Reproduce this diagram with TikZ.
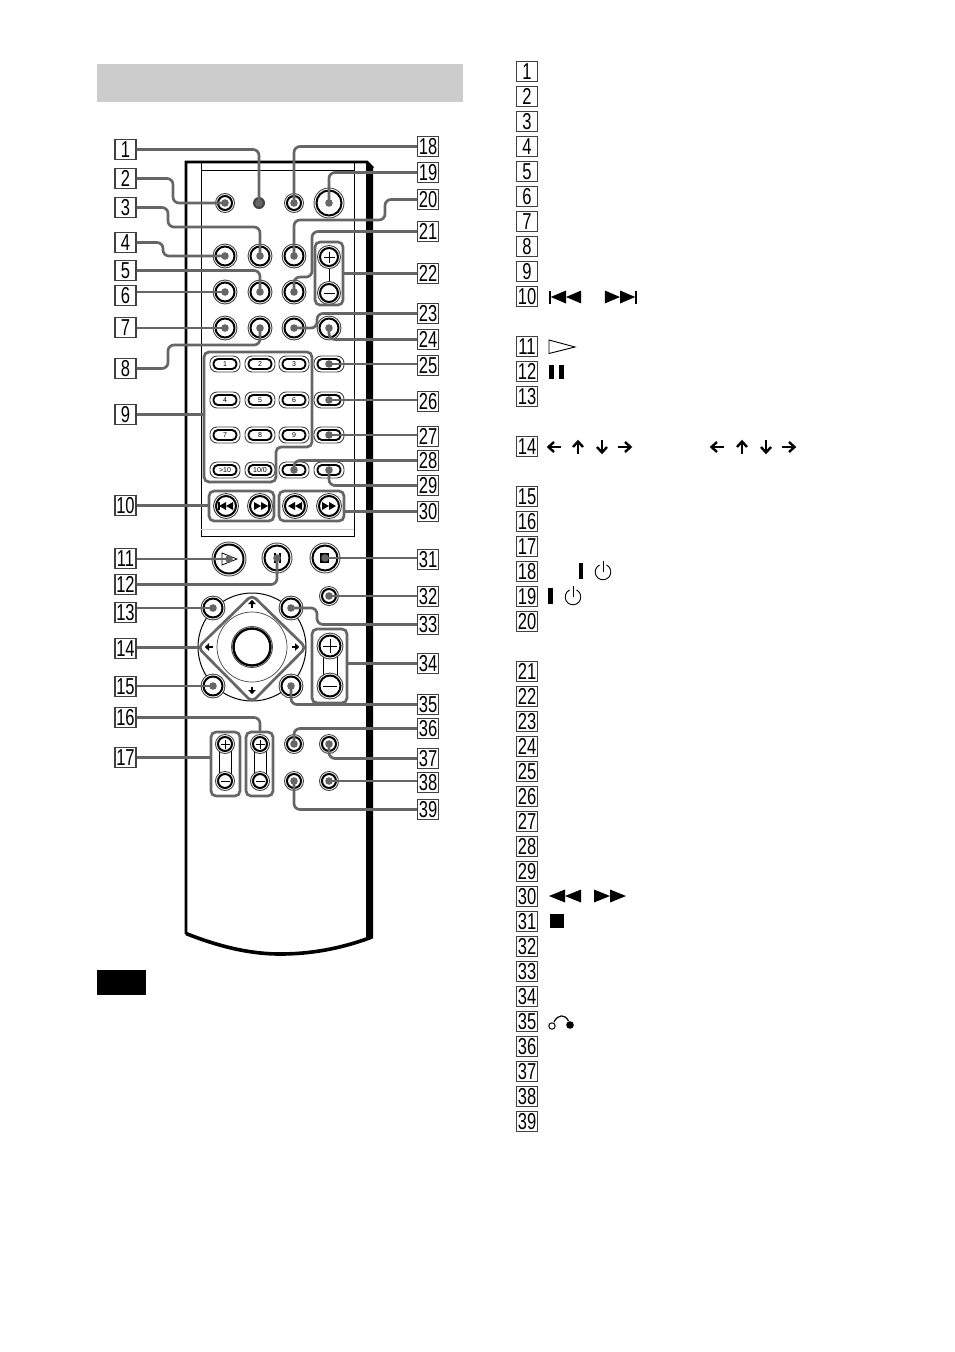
\documentclass[tikz,border=0pt]{standalone}
\usepackage{fontspec}
\setmainfont{Liberation Sans}
\newfontfamily\labfont[FakeStretch=0.72]{Liberation Sans}
\definecolor{conn}{HTML}{666666}
\definecolor{ringc}{HTML}{444444}
\definecolor{band}{HTML}{CCCCCC}
\tikzset{
  lab/.style={draw=black!75,line width=1.2pt,fill=white,minimum width=21pt,minimum height=20.5pt,inner sep=0pt,font=\labfont\fontsize{23}{23}\selectfont},
  conn/.style={draw=conn,line width=2.7pt,rounded corners=6pt},
  grp/.style={draw=conn,line width=2.7pt,rounded corners=5pt},
  ring/.style={draw=ringc,line width=0.9pt,fill=white},
  core/.style={circle,draw=black,line width=2pt,fill=white,inner sep=0pt},
  ovalcore/.style={rectangle,rounded corners=4.5pt,draw=black,line width=1.9pt,fill=white,inner sep=0pt,minimum width=23pt,minimum height=10pt,font=\fontsize{7}{7}\selectfont},
  enddot/.style={fill=conn,draw=none},
  arr/.pic={\draw[black,line width=2.4pt] (-7,0) -- (5,0); \draw[black,line width=2.4pt] (0,-5) -- (5.5,0) -- (0,5);},
  smallarr/.pic={\fill[black] (-3.5,-1.2) rectangle (1,1.2); \fill[black] (0,-3.8) -- (4.2,0) -- (0,3.8) -- cycle;}
}
\newcommand{\btn}[4]{\draw[ring] (#2,#3) circle (#4); \node[core,minimum size=#4*2-5] (#1) at (#2,#3) {};}
\newcommand{\ovalbtn}[4]{\draw[ring,rounded corners=7pt] (#2-15,#3-8) rectangle (#2+15,#3+8); \node[ovalcore] (#1) at (#2,#3) {#4};}
\newcommand{\tipdot}[1]{\fill[enddot] (#1.center) circle (3.8);}
\newcommand{\prevsym}[3]{\fill[black] (#1,#2-6.5) rectangle (#1+2,#2+6.5); \fill[black] (#1+1.8,#2) -- (#1+#3,#2-6.5) -- (#1+#3,#2+6.5) -- cycle; \fill[black] (#1+#3,#2) -- (#1+2*#3-1.8,#2-6.5) -- (#1+2*#3-1.8,#2+6.5) -- cycle;}
\newcommand{\nextsym}[3]{\fill[black] (#1-2,#2-6.5) rectangle (#1,#2+6.5); \fill[black] (#1-1.8,#2) -- (#1-#3,#2-6.5) -- (#1-#3,#2+6.5) -- cycle; \fill[black] (#1-#3,#2) -- (#1-2*#3+1.8,#2-6.5) -- (#1-2*#3+1.8,#2+6.5) -- cycle;}
\begin{document}
\begin{tikzpicture}[x=1pt,y=-1pt,line cap=butt]
\useasboundingbox (0,0) rectangle (954,1352);
\fill[white] (0,0) rectangle (954,1352);
\fill[band] (97,64) rectangle (463,102);
\fill[black] (97,970) rectangle (146,995);

% --- remote body
\draw[black,line width=2.6pt] (186,934) -- (186,162) -- (367,162) -- (373,168);
\fill[black] (366,161) -- (373,168) -- (373,938) -- (366,940.5) -- cycle;
\draw[black,line width=3.6pt] (186,933.5) .. controls (225,949) and (255,954) .. (280,954) .. controls (310,954) and (340,949) .. (372,937);
\draw[black,line width=1pt] (201,162) -- (201,536) -- (354,536) -- (354,162);
\draw[black,line width=1pt] (201,170) -- (354,170);
\draw[band,line width=1pt] (201,529) -- (354,529);

% --- top buttons
\btn{b2}{225}{203}{9.5}
\fill[ringc] (259,203) circle (6); \node[circle,fill=conn,minimum size=7,inner sep=0pt] (b1) at (259,203) {};
\btn{b18}{294}{203}{9.5}
\btn{b19}{329}{203}{15}
\foreach \nm/\xx/\yy in {b4/225/256,b3/260/256,b20/294/256,b6/225/292,b5/260/292,b21/294/292,b7/225/328,b8/260/328,b23/294/328,b24/329/328}{\btn{\nm}{\xx}{\yy}{12}}
\draw[black,line width=0.8pt] (329,262) -- (329,282);
\btn{bplus}{329}{257}{11.5}
\btn{bminus}{329}{293}{11.5}
\draw[black,line width=1pt] (323.5,257) -- (334.5,257) (329,251.5) -- (329,262.5) (323.5,293) -- (334.5,293);

% --- number keys
\ovalbtn{k1}{225}{364}{1}
\ovalbtn{k2}{260}{364}{2}
\ovalbtn{k3}{294}{364}{3}
\ovalbtn{b25}{329}{364}{}
\ovalbtn{k4}{225}{400}{4}
\ovalbtn{k5}{260}{400}{5}
\ovalbtn{k6}{294}{400}{6}
\ovalbtn{b26}{329}{400}{}
\ovalbtn{k7}{225}{435}{7}
\ovalbtn{k8}{260}{435}{8}
\ovalbtn{k9}{294}{435}{9}
\ovalbtn{b27}{329}{435}{}
\ovalbtn{k10}{225}{470}{>10}
\ovalbtn{k0}{260}{470}{10/0}
\ovalbtn{b28}{294}{470}{}
\ovalbtn{b29}{329}{470}{}

% --- transport keys
\foreach \nm/\xx in {tp/226,tn/260,tr/295,tf/329}{\btn{\nm}{\xx}{506}{12.5}}
\fill[black] (218,502) rectangle (219.5,510); \fill[black] (219,506) -- (226,502) -- (226,510) -- cycle; \fill[black] (226,506) -- (233,502) -- (233,510) -- cycle;
\fill[black] (267.5,502) rectangle (269,510); \fill[black] (268,506) -- (261,502) -- (261,510) -- cycle; \fill[black] (261,506) -- (254,502) -- (254,510) -- cycle;
\fill[black] (295,506) -- (302,502) -- (302,510) -- cycle; \fill[black] (288,506) -- (295,502) -- (295,510) -- cycle;
\fill[black] (329,506) -- (322,502) -- (322,510) -- cycle; \fill[black] (336,506) -- (329,502) -- (329,510) -- cycle;

% --- big keys
\btn{b11}{229}{559}{17}
\draw[black,line width=0.8pt,fill=white] (222,553) -- (237,559) -- (222,565) -- cycle;
\btn{b12}{277}{558}{15}
\fill[black] (274,553) rectangle (276,563); \fill[black] (279,553) rectangle (281,563);
\btn{b31}{325}{558}{15}
\fill[black] (320,553) rectangle (329,563);
\btn{b32}{329}{596}{9.5}

% --- cursor pad
\draw[black,line width=1pt,fill=white] (252,647) circle (54);
\btn{b13}{213}{608}{12}
\btn{b33}{291}{608}{12}
\btn{b15}{213}{686}{12}
\btn{b35}{291}{686}{12}
\draw[grp,line join=round] (198,647.5) -- (252,595) -- (306,647.5) -- (252,702) -- cycle;
\coordinate (padleft) at (198,647.5);
\draw[ringc,line width=0.7pt] (252,647) circle (35);
\draw[ringc,line width=0.8pt] (252,647) circle (20.5);
\draw[black,line width=2.4pt] (252,647) circle (18.5);
\path (252,604) pic[rotate=90] {smallarr};
\path (252,690) pic[rotate=-90] {smallarr};
\path (209,647) pic[rotate=180] {smallarr};
\path (295,647) pic {smallarr};

\draw[black,line width=0.8pt] (323,646) -- (323,686) (337,646) -- (337,686);
\btn{cplus}{330}{646}{13}
\btn{cminus}{330}{686}{13}
\draw[black,line width=1pt] (323,646) -- (337,646) (330,639) -- (330,653) (323,686) -- (337,686);

% --- lower keys
\draw[black,line width=0.8pt] (219,744) -- (219,781) (231,744) -- (231,781);
\draw[black,line width=0.8pt] (254,744) -- (254,781) (266,744) -- (266,781);
\foreach \nm/\xx/\yy in {vp/225/744,vm/225/781,up/260/744,um/260/781,b36/294/744,b37/329/744,b39/294/781,b38/329/781}{\btn{\nm}{\xx}{\yy}{9.5}}
\draw[black,line width=0.9pt] (220.5,744) -- (229.5,744) (225,739.5) -- (225,748.5) (220.5,781) -- (229.5,781);
\draw[black,line width=0.9pt] (255.5,744) -- (264.5,744) (260,739.5) -- (260,748.5) (255.5,781) -- (264.5,781);

% --- groups
\draw[grp] (315,242) rectangle (343,305);
\draw[grp] (204,352) -- (312,352) -- (312,447) -- (276,447) -- (276,482) -- (204,482) -- cycle;
\draw[grp] (209,491) rectangle (274,521);
\draw[grp] (279,491) rectangle (344,521);
\draw[grp] (312,629) rectangle (347,703);
\draw[grp] (211,732) rectangle (240,796);
\draw[grp] (246,732) rectangle (273,796);
\coordinate (g22) at (343,273);
\coordinate (g9) at (204,414);
\coordinate (g10) at (209,505);
\coordinate (g30) at (344,511);
\coordinate (g34) at (347,663);
\coordinate (g16) at (260,732);
\coordinate (g17) at (211,757);

% --- callout labels
\foreach \n/\y in {1/149.5,2/178.5,3/207.5,4/242.5,5/270.5,6/295.5,7/327.5,8/368.5,9/414.5,10/505.5,11/558.5,12/584.5,13/612.5,14/648.5,15/686.5,16/717.5,17/757.5}{\node[lab] (L\n) at (125.5,\y) {\n};}
\foreach \n/\y in {18/146.5,19/172.5,20/199.5,21/231.5,22/273.5,23/313.5,24/339.5,25/365.5,26/401.5,27/436.5,28/460.5,29/485.5,30/511.5,31/559.5,32/596.5,33/624.5,34/663.5,35/704.5,36/728.5,37/758.5,38/782.5,39/809.5}{\node[lab] (L\n) at (428,\y) {\n};}

% --- list labels
\foreach \n/\y in {1/71,2/96,3/121,4/146,5/171,6/196,7/221,8/246,9/271,10/296,11/346,12/371,13/396,14/446,15/496,16/521,17/546,18/571,19/596,20/621,21/671,22/696,23/721,24/746,25/771,26/796,27/821,28/846,29/871,30/896,31/921,32/946,33/971,34/996,35/1021,36/1046,37/1071,38/1096,39/1121}{\node[lab] (list\n) at (527,\y+0.5) {\n};}

% --- connectors
\draw[conn] (L1.east) -| (b1.center);
\draw[conn] (L2.east) -- (173,178.5) |- (b2.center);
\draw[conn] (L3.east) -- (168,207.5) |- (260,227) -- (b3.center);
\draw[conn] (L4.east) -- (163,242.5) |- (b4.center);
\draw[conn] (L5.east) -| (b5.center);
\draw[conn] (b6.center -| L6.east) -- (b6.center);
\draw[conn] (b7.center -| L7.east) -- (b7.center);
\draw[conn] (L8.east) -- (168,368.5) |- (260,345) -- (b8.center);
\draw[conn] (L9.east) -- (L9.east -| g9);
\draw[conn] (L10.east) -- (L10.east -| g10);
\draw[conn] (b11.center -| L11.east) -- (b11.center);
\draw[conn] (L12.east) -| (b12.center);
\draw[conn] (b13.center -| L13.east) -- (b13.center);
\draw[conn] (padleft -| L14.east) -- (padleft);
\draw[conn] (b15.center -| L15.east) -- (b15.center);
\draw[conn] (L16.east) -| (g16);
\draw[conn] (L17.east) -- (L17.east -| g17);
\draw[conn] (L18.west) -| (b18.center);
\draw[conn] (L19.west) -| (b19.center);
\draw[conn] (L20.west) -- (385,199.5) |- (294,220) -- (b20.center);
\draw[conn] (L21.west) -- (312,231.5) |- (294,277) -- (b21.center);
\draw[conn] (L22.west) -- (L22.west -| g22);
\draw[conn] (L23.west) -- (317,313.5) |- (b23.center);
\draw[conn] (L24.west) -| (b24.center);
\draw[conn] (b25.center -| L25.west) -- (b25.center);
\draw[conn] (b26.center -| L26.west) -- (b26.center);
\draw[conn] (b27.center -| L27.west) -- (b27.center);
\draw[conn] (L28.west) -| (b28.center);
\draw[conn] (L29.west) -| (b29.center);
\draw[conn] (L30.west) -- (L30.west -| g30);
\draw[conn] (b31.center -| L31.west) -- (b31.center);
\draw[conn] (b32.center -| L32.west) -- (b32.center);
\draw[conn] (L33.west) -- (317,624.5) |- (b33.center);
\draw[conn] (L34.west) -- (L34.west -| g34);
\draw[conn] (L35.west) -| (b35.center);
\draw[conn] (L36.west) -| (b36.center);
\draw[conn] (L37.west) -| (b37.center);
\draw[conn] (b38.center -| L38.west) -- (b38.center);
\draw[conn] (L39.west) -| (b39.center);
\foreach \b in {b1,b2,b3,b4,b5,b6,b7,b8,b11,b12,b13,b15,b18,b19,b20,b21,b23,b24,b25,b26,b27,b28,b29,b31,b32,b33,b35,b36,b37,b38,b39}{\tipdot{\b}}

% --- symbols in the list
\prevsym{549}{297}{17}
\nextsym{637}{297}{17}
\draw[black,line width=0.9pt] (549,340) -- (575,347) -- (549,353.5) -- cycle;
\fill[black] (549,365) rectangle (554,379);
\fill[black] (559,365) rectangle (564,379);
\path (554,447) pic[rotate=180] {arr};
\path (578,447) pic[rotate=90] {arr};
\path (602,447) pic[rotate=-90] {arr};
\path (625,447) pic {arr};
\path (717,447) pic[rotate=180] {arr};
\path (742,447) pic[rotate=90] {arr};
\path (766,447) pic[rotate=-90] {arr};
\path (789,447) pic {arr};
\fill[black] (578.5,563) rectangle (583,579);
\draw[black,line width=0.9pt] (603,572) ++(-3.5,-7) arc (243.4:-63.4:7.8);
\draw[black,line width=0.9pt] (603,561) -- (603,572);
\fill[black] (548,588) rectangle (552.5,604);
\draw[black,line width=0.9pt] (573,597) ++(-3.5,-7) arc (243.4:-63.4:7.8);
\draw[black,line width=0.9pt] (573,586) -- (573,597);
\fill[black] (549,896) -- (565,889.5) -- (565,902.5) -- cycle;
\fill[black] (565,896) -- (581,889.5) -- (581,902.5) -- cycle;
\fill[black] (610,896) -- (594,889.5) -- (594,902.5) -- cycle;
\fill[black] (626,896) -- (610,889.5) -- (610,902.5) -- cycle;
\fill[black] (550,914) rectangle (564,928);
\draw[black,line width=1pt] (552,1026) circle (3.2);
\fill[black] (570,1025) circle (3.8);
\draw[black,line width=1.2pt] (554,1022) .. controls (558,1014) and (565,1014) .. (568.5,1021);
\end{tikzpicture}
\end{document}
